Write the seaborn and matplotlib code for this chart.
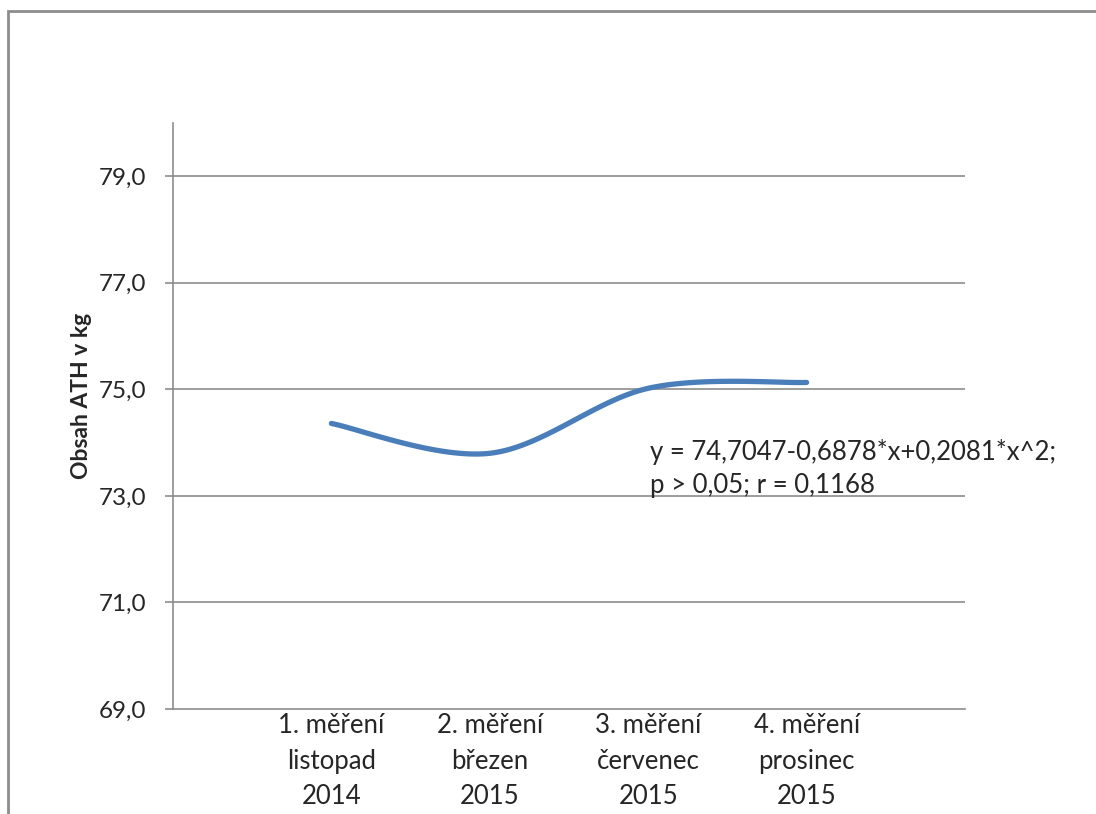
import numpy as np
import matplotlib
matplotlib.use("Agg")
import matplotlib.pyplot as plt
from matplotlib.patches import Rectangle
import seaborn as sns

# data
mereni = [1, 2, 3, 4]
ath_kg = [74.36, 73.80, 75.02, 75.13]
labels = ["1. měření\nlistopad\n2014", "2. měření\nbřezen\n2015",
          "3. měření\nčervenec\n2015", "4. měření\nprosinec\n2015"]
yticks = [69, 71, 73, 75, 77, 79]
rovnice = "y = 74,7047-0,6878*x+0,2081*x^2;\np > 0,05; r = 0,1168"

GRAY = "#8c8c8c"
BLUE = "#4a7ebb"


def smooth(xs, ys, n=40):
    # Excel-like smoothed line (Catmull-Rom / cubic Bezier through the points)
    xs = np.asarray(xs, float); ys = np.asarray(ys, float)
    px = np.r_[xs[0], xs, xs[-1]]; py = np.r_[ys[0], ys, ys[-1]]
    ox, oy = [], []
    t = np.linspace(0, 1, n)
    for i in range(1, len(px) - 2):
        p0 = np.array([px[i], py[i]]); p3 = np.array([px[i + 1], py[i + 1]])
        p1 = p0 + (np.array([px[i + 1], py[i + 1]]) - np.array([px[i - 1], py[i - 1]])) / 6
        p2 = p3 - (np.array([px[i + 2], py[i + 2]]) - np.array([px[i], py[i]])) / 6
        b = ((1 - t) ** 3)[:, None] * p0 + (3 * (1 - t) ** 2 * t)[:, None] * p1 \
            + (3 * (1 - t) * t ** 2)[:, None] * p2 + (t ** 3)[:, None] * p3
        ox.extend(b[:, 0]); oy.extend(b[:, 1])
    return np.array(ox), np.array(oy)


sns.set_theme(style="white")
plt.rcParams["font.family"] = ["Lato", "DejaVu Sans"]

fig = plt.figure(figsize=(10.96, 8.14), dpi=100)
ax = fig.add_axes([173 / 1096, 1 - 709 / 814, 792 / 1096, 586 / 814])

sx, sy = smooth(mereni, ath_kg)
sns.lineplot(x=sx, y=sy, ax=ax, color=BLUE, linewidth=3.8, sort=False,
             solid_capstyle="round")

ax.set_xlim(0, 5)
ax.set_ylim(69, 80)
ax.set_yticks(yticks)
ax.set_yticklabels([f"{v:.1f}".replace(".", ",") for v in yticks], fontsize=17.5)
ax.set_xticks(mereni)
ax.set_xticklabels(labels, fontsize=18.5, linespacing=1.52)
ax.tick_params(axis="x", length=0, pad=3)
ax.tick_params(axis="y", length=6, width=1.2, color=GRAY, pad=13, left=True)

for v in yticks[1:]:
    ax.axhline(v, color=GRAY, lw=1.2, zorder=0)

sns.despine(ax=ax, top=True, right=True)
for s in ["left", "bottom"]:
    ax.spines[s].set_color(GRAY)
    ax.spines[s].set_linewidth(1.2)

ax.set_ylabel("Obsah ATH v kg", fontsize=16.5, fontweight="bold")
ax.yaxis.set_label_coords(-0.102, 0.535)

ax.text(3.01, 73.52, rovnice, fontsize=18.5, va="center", ha="left",
        linespacing=1.4)

# outer chart border
fig.patches.append(Rectangle((8 / 1096, -0.1), 1.2, 1 - 11 / 814 + 0.1,
                             transform=fig.transFigure, fill=False,
                             edgecolor=GRAY, lw=2))

fig.savefig("out.png", dpi=100)
